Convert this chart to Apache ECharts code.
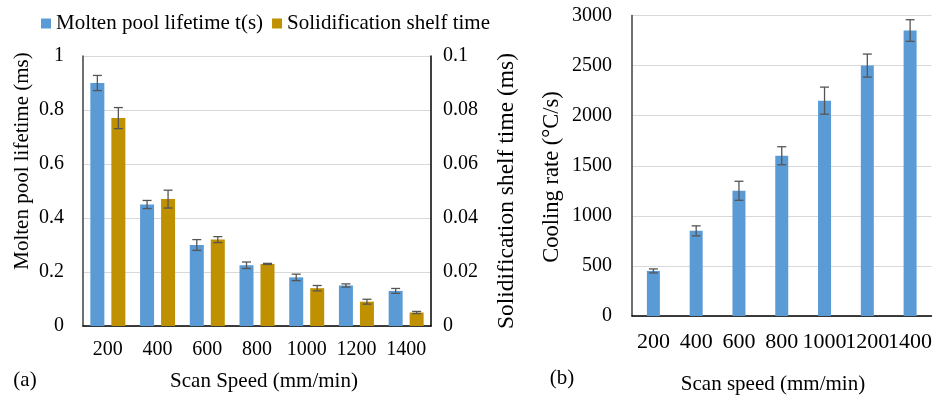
<!DOCTYPE html>
<html>
<head>
<meta charset="utf-8">
<script src="https://cdn.jsdelivr.net/npm/echarts@6/dist/echarts.min.js"></script>
<style>html,body{margin:0;padding:0;background:#fff}#c{width:935px;height:403px}</style>
</head>
<body>
<div id="c"></div>
<script>
const categories = ['200','400','600','800','1000','1200','1400'];
const lifetime = [0.9, 0.45, 0.3, 0.225, 0.18, 0.15, 0.13];
const lifetimeErr = [0.028, 0.015, 0.02, 0.012, 0.012, 0.006, 0.009];
const shelf = [0.077, 0.047, 0.032, 0.023, 0.014, 0.009, 0.005];
const shelfErr = [0.0039, 0.0033, 0.0011, 0.0002, 0.001, 0.0009, 0.0004];
const cooling = [450, 850, 1250, 1600, 2150, 2500, 2850];
const coolingErr = [20, 50, 95, 90, 135, 115, 108];

const FONT = 'Liberation Serif';
const chart = echarts.init(document.getElementById('c'), null, {renderer: 'canvas'});

function errRender(offset) {
  return function (params, api) {
    const i = api.value(0), v = api.value(1), e = api.value(2);
    const t = api.coord([i, v + e]);
    const b = api.coord([i, v - e]);
    const x = t[0] + offset, h = 4.5;
    const st = {stroke: '#555', lineWidth: 1.3};
    return {type: 'group', children: [
      {type: 'line', shape: {x1: x, y1: t[1], x2: x, y2: b[1]}, style: st},
      {type: 'line', shape: {x1: x - h, y1: t[1], x2: x + h, y2: t[1]}, style: st},
      {type: 'line', shape: {x1: x - h, y1: b[1], x2: x + h, y2: b[1]}, style: st}
    ]};
  };
}
const toErr = (vals, errs) => vals.map((v, i) => [i, v, errs[i]]);

const catAxis = (gi, margin, fs) => ({
  type: 'category', gridIndex: gi, data: categories,
  axisTick: {show: false},
  axisLine: {lineStyle: {color: '#000', width: 1.5}},
  axisLabel: {interval: 0, margin: margin, color: '#000', fontFamily: FONT, fontSize: fs}
});

chart.setOption({
  animation: false,
  textStyle: {fontFamily: FONT},
  legend: {
    left: 36, top: 8, itemWidth: 10, itemHeight: 10, itemGap: 9, icon: 'rect',
    textStyle: {fontFamily: FONT, fontSize: 21, color: '#000'},
    data: ['Molten pool lifetime t(s)', 'Solidification shelf time']
  },
  grid: [
    {left: 83, right: 504, top: 56, bottom: 77},
    {left: 632, right: 2, top: 15.5, bottom: 87}
  ],
  xAxis: [catAxis(0, 14, 20), catAxis(1, 15, 22)],
  yAxis: [
    {type: 'value', gridIndex: 0, min: 0, max: 1, interval: 0.2,
      axisLine: {show: true, lineStyle: {color: '#404040', width: 1.5}},
      splitLine: {lineStyle: {color: '#d9d9d9', width: 1.2}},
      axisLabel: {margin: 19, color: '#000', fontFamily: FONT, fontSize: 20}},
    {type: 'value', gridIndex: 0, position: 'right', min: 0, max: 0.1, interval: 0.02,
      axisLine: {show: true, lineStyle: {color: '#000', width: 1.5}},
      splitLine: {show: false},
      axisLabel: {margin: 12, color: '#000', fontFamily: FONT, fontSize: 20}},
    {type: 'value', gridIndex: 1, min: 0, max: 3000, interval: 500,
      axisLine: {show: true, lineStyle: {color: '#404040', width: 1.5}},
      splitLine: {lineStyle: {color: '#d9d9d9', width: 1.2}},
      axisLabel: {margin: 20, color: '#000', fontFamily: FONT, fontSize: 20, formatter: v => String(v)}}
  ],
  series: [
    {name: 'Molten pool lifetime t(s)', type: 'bar', xAxisIndex: 0, yAxisIndex: 0,
      data: lifetime, barWidth: 14, barGap: '50%', itemStyle: {color: '#5B9BD5'}},
    {name: 'Solidification shelf time', type: 'bar', xAxisIndex: 0, yAxisIndex: 1,
      data: shelf, barWidth: 14, barGap: '50%', itemStyle: {color: '#BF9000'}},
    {type: 'custom', xAxisIndex: 0, yAxisIndex: 0, z: 5, renderItem: errRender(-10.5),
      data: toErr(lifetime, lifetimeErr), encode: {x: 0, y: 1}},
    {type: 'custom', xAxisIndex: 0, yAxisIndex: 1, z: 5, renderItem: errRender(10.5),
      data: toErr(shelf, shelfErr), encode: {x: 0, y: 1}},
    {name: 'Cooling rate', type: 'bar', xAxisIndex: 1, yAxisIndex: 2,
      data: cooling, barWidth: 13, itemStyle: {color: '#5B9BD5'}},
    {type: 'custom', xAxisIndex: 1, yAxisIndex: 2, z: 5, renderItem: errRender(0),
      data: toErr(cooling, coolingErr), encode: {x: 0, y: 1}}
  ],
  graphic: [
    {type: 'text', x: 22, y: 161, rotation: Math.PI / 2,
      style: {text: 'Molten pool lifetime (ms)', fontFamily: FONT, fontSize: 21, fill: '#000', textAlign: 'center', textVerticalAlign: 'middle'}},
    {type: 'text', x: 507, y: 191, rotation: Math.PI / 2,
      style: {text: 'Solidification shelf time (ms)', fontFamily: FONT, fontSize: 23.5, fill: '#000', textAlign: 'center', textVerticalAlign: 'middle'}},
    {type: 'text', x: 264, y: 381,
      style: {text: 'Scan Speed (mm/min)', fontFamily: FONT, fontSize: 21, fill: '#000', textAlign: 'center', textVerticalAlign: 'middle'}},
    {type: 'text', x: 25, y: 380,
      style: {text: '(a)', fontFamily: FONT, fontSize: 21, fill: '#000', textAlign: 'center', textVerticalAlign: 'middle'}},
    {type: 'text', x: 552, y: 177, rotation: Math.PI / 2,
      style: {text: 'Cooling rate (°C/s)', fontFamily: FONT, fontSize: 22.5, fill: '#000', textAlign: 'center', textVerticalAlign: 'middle'}},
    {type: 'text', x: 773, y: 384,
      style: {text: 'Scan speed (mm/min)', fontFamily: FONT, fontSize: 21, fill: '#000', textAlign: 'center', textVerticalAlign: 'middle'}},
    {type: 'text', x: 562, y: 378,
      style: {text: '(b)', fontFamily: FONT, fontSize: 21, fill: '#000', textAlign: 'center', textVerticalAlign: 'middle'}}
  ]
});
</script>
</body>
</html>
